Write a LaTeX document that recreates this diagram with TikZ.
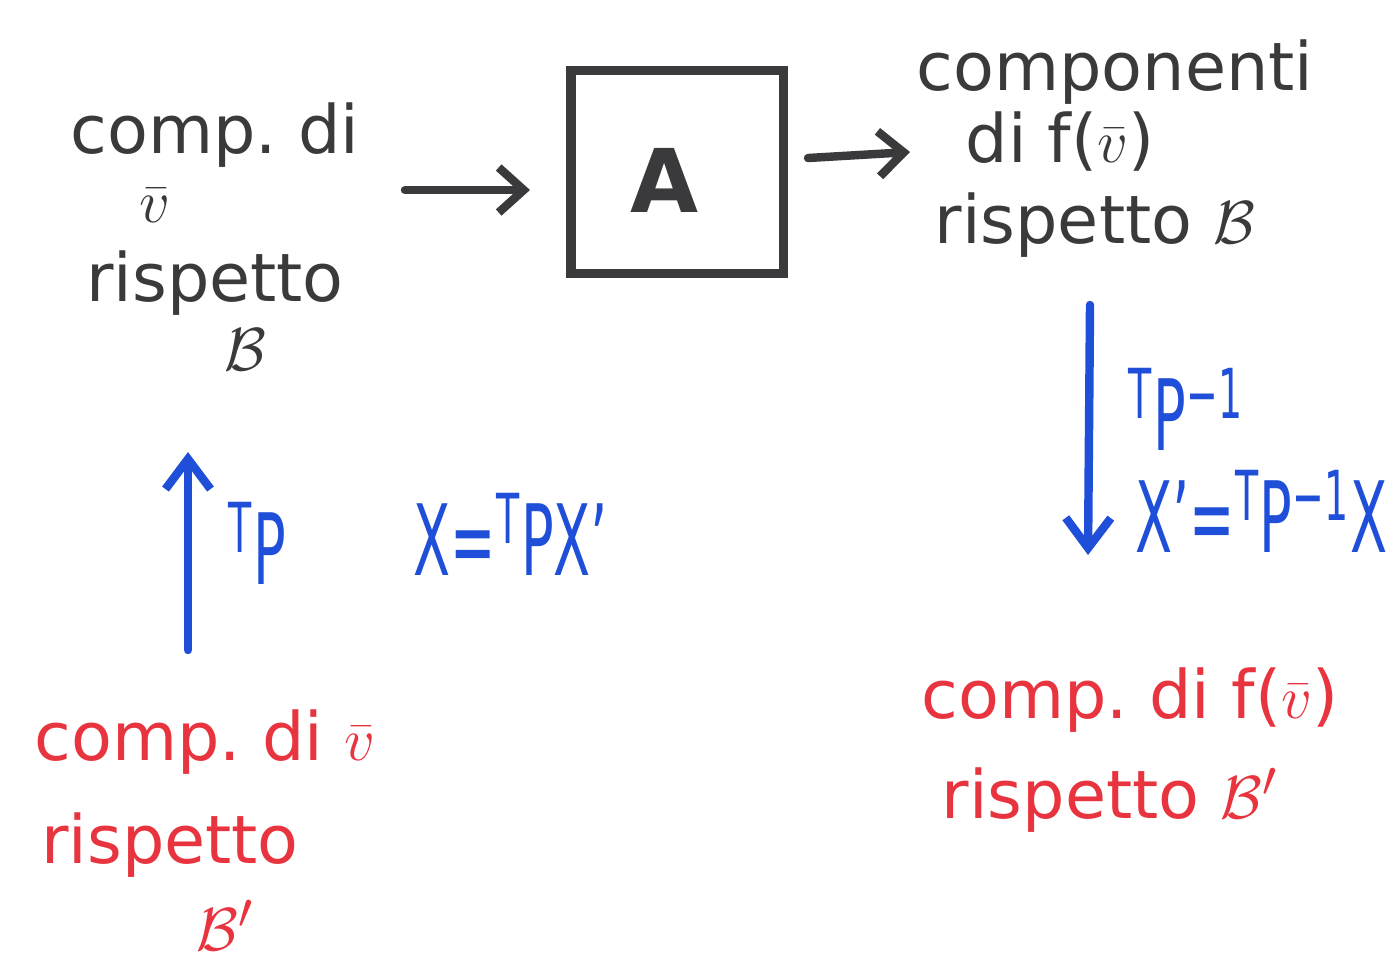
\documentclass[tikz,border=0pt]{standalone}
\usepackage{fontspec}
\setmainfont{DejaVu Sans}
\newfontfamily\bluefont[FakeStretch=0.55]{DejaVu Sans}
\usetikzlibrary{arrows.meta}
\definecolor{ink}{HTML}{3A3A3C}
\definecolor{blu}{HTML}{1F4FD8}
\definecolor{rd}{HTML}{E8343F}
\begin{document}
\begin{tikzpicture}[x=0.01cm,y=-0.01cm,
  txt/.style={font=\fontsize{19}{22}\selectfont, inner sep=0pt, anchor=center},
  gtxt/.style={txt, text=ink},
  btxt/.style={font=\bluefont\fontsize{28}{30}\selectfont, inner sep=0pt, text=blu, anchor=base west},
  rtxt/.style={txt, text=rd},
  garrow/.style={draw=ink, line width=2.4pt, line cap=round, -{Straight Barb[length=2.5mm,width=4.5mm,line width=2.4pt]}},
  barrow/.style={draw=blu, line width=2.4pt, line cap=round, -{Straight Barb[length=3mm,width=4.5mm,line width=2.4pt]}},
  box/.style={draw=ink, line width=2.6pt, minimum width=2.12cm, minimum height=2.03cm, inner sep=0pt}]
\useasboundingbox (0,0) rectangle (1392,963);

% top left block
\node[gtxt] (l1) at (215,135) {comp.\ di};
\node[gtxt] (l2) at (155,205) {$\bar{v}$};
\node[gtxt] (l3) at (215,283) {rispetto};
\node[gtxt] (l4) at (245,350) {$\mathcal{B}$};

% box
\node[box] (A) at (677,172) {};
\node[text=ink, font=\fontsize{25}{28}\selectfont\bfseries] (Alab) at (665,180) {A};

% top right block
\node[gtxt] (r1) at (1115,72) {componenti};
\node[gtxt] (r2) at (1060,142) {di f($\bar{v}$)};
\node[gtxt] (r3) at (1095,225) {rispetto $\mathcal{B}$};

% gray arrows
\coordinate (g1s) at (405,190);
\coordinate (g1e) at (530,190);
\coordinate (g2s) at (808,158);
\coordinate (g2e) at (910,152);
\draw[garrow] (g1s) -- (g1e);
\draw[garrow] (g2s) -- (g2e);

% blue arrows
\coordinate (u1s) at (188,650);
\coordinate (u1e) at (188,452);
\coordinate (d1s) at (1090,305);
\coordinate (d1e) at (1088,555);
\draw[barrow] (u1s) -- (u1e);
\draw[barrow] (d1s) -- (d1e);

% blue labels
\node[btxt] (b1) at (228,584) {\textsuperscript{T}P};
\node[btxt] (b2) at (413,575) {X=\textsuperscript{T}PX’};
\node[btxt] (b3) at (1128,450) {\textsuperscript{T}P\textsuperscript{−1}};
\node[btxt, anchor=base east] (b4) at (1388,552) {X’=\textsuperscript{T}P\textsuperscript{−1}X};

% red bottom left
\node[rtxt] (p1) at (205,742) {comp.\ di $\bar{v}$};
\node[rtxt] (p2) at (170,845) {rispetto};
\node[rtxt] (p3) at (225,925) {$\mathcal{B}'$};

% red bottom right
\node[rtxt] (q1) at (1130,700) {comp.\ di f($\bar{v}$)};
\node[rtxt] (q2) at (1110,800) {rispetto $\mathcal{B}'$};
\end{tikzpicture}
\end{document}
